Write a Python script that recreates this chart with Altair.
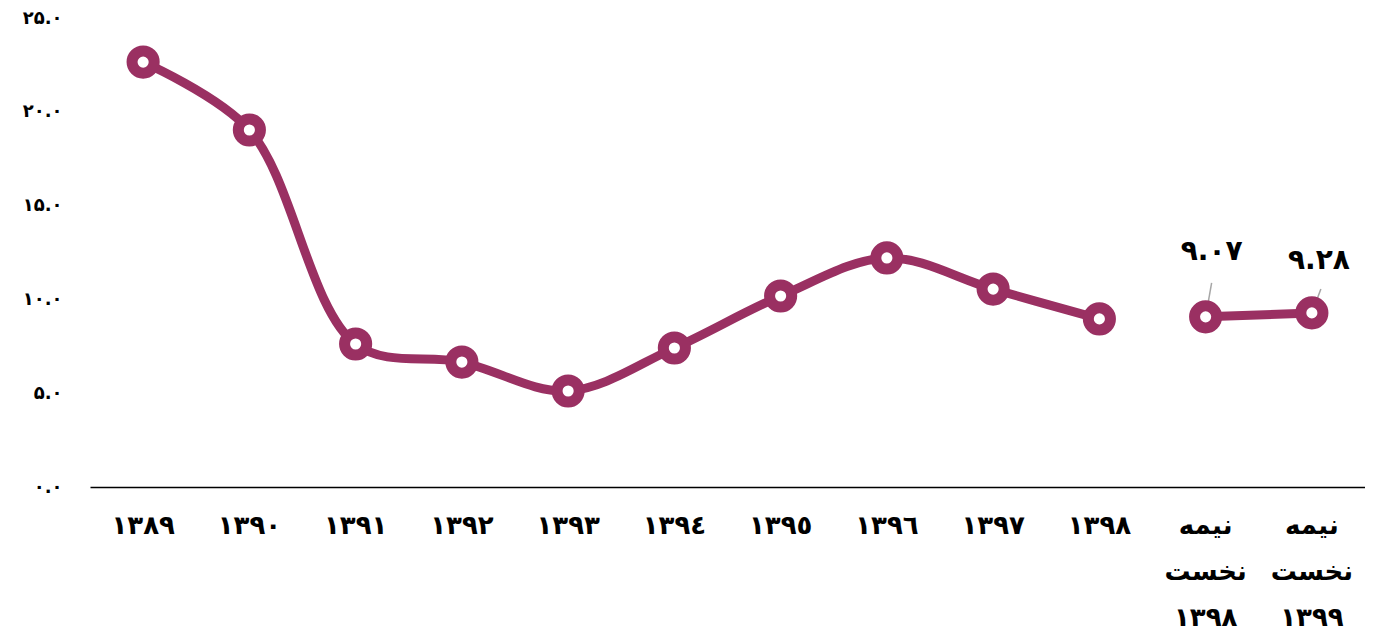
import altair as alt
import pandas as pd

categories = ["۱۳۸۹", "۱۳۹۰", "۱۳۹۱", "۱۳۹۲", "۱۳۹۳", "۱۳۹٤", "۱۳۹٥", "۱۳۹٦", "۱۳۹۷", "۱۳۹۸",
              "نیمه نخست ۱۳۹۸", "نیمه نخست ۱۳۹۹"]
values = [22.65, 19.03, 7.62, 6.66, 5.12, 7.41, 10.18, 12.21, 10.55, 8.96, 9.07, 9.28]
segments = ["a"] * 10 + ["b"] * 2
point_labels = [""] * 10 + ["۹.۰۷", "۹.۲۸"]

y_ticks = [0, 5, 10, 15, 20, 25]
y_tick_labels = ["۰.۰", "۵.۰", "۱۰.۰", "۱۵.۰", "۲۰.۰", "۲۵.۰"]

df = pd.DataFrame({"cat": categories, "val": values, "seg": segments, "lab": point_labels})

color = "#9a3062"
font = "DejaVu Sans"

label_expr = ""
for v, t in zip(y_ticks, y_tick_labels):
    label_expr += f"datum.value == {v} ? '{t}' : "
label_expr += "''"

x_enc = alt.X("cat:N", sort=categories, title=None,
              scale=alt.Scale(paddingInner=0, paddingOuter=0),
              axis=alt.Axis(labelExpr="split(datum.label, ' ')", labelAngle=0,
                            labelFont=font, labelFontSize=26, labelFontWeight="bold",
                            labelColor="black", labelLineHeight=46, labelPadding=25,
                            labelBaseline="top",
                            ticks=False, domainColor="black", domainWidth=1.5, grid=False))
y_enc = alt.Y("val:Q", title=None,
              scale=alt.Scale(domain=[0, 25], nice=False),
              axis=alt.Axis(values=y_ticks, labelExpr=label_expr, labelFont=font,
                            labelFontSize=18, labelFontWeight="bold", labelColor="black",
                            labelPadding=28, ticks=False, domain=False, grid=False))

xs = alt.X("cat:N", sort=categories)

base = alt.Chart(df)

line = base.mark_line(color=color, strokeWidth=9, interpolate="catmull-rom").encode(
    x=x_enc, y=y_enc, detail="seg:N")

lab1 = base.transform_filter(f"datum.lab == '{point_labels[10]}'")
lab2 = base.transform_filter(f"datum.lab == '{point_labels[11]}'")

leader1 = lab1.mark_rule(color="#a6a6a6", strokeWidth=1.5, x2Offset=6, y2Offset=-34).encode(
    x=xs, x2="cat:N", y="val:Q", y2="val:Q")
leader2 = lab2.mark_rule(color="#a6a6a6", strokeWidth=1.5, x2Offset=9, y2Offset=-24).encode(
    x=xs, x2="cat:N", y="val:Q", y2="val:Q")

points = base.mark_point(shape="circle", filled=False, fill="white", fillOpacity=1,
                         stroke=color, strokeWidth=11, size=490, opacity=1).encode(
    x=xs, y="val:Q")

text1 = lab1.mark_text(font=font, fontSize=28, fontWeight="bold", color="black",
                       dy=-65, dx=6).encode(x=xs, y="val:Q", text="lab:N")
text2 = lab2.mark_text(font=font, fontSize=28, fontWeight="bold", color="black",
                       dy=-52, dx=7).encode(x=xs, y="val:Q", text="lab:N")

chart = alt.layer(line, leader1, leader2, points, text1, text2).properties(
    width=1275, height=469,
    background="white",
    autosize=alt.AutoSizeParams(type="none"),
    padding={"left": 82, "top": 10, "right": 0, "bottom": 148},
).configure_view(stroke=None)

chart.save("out.html", embed_options={"renderer": "svg", "actions": False})
